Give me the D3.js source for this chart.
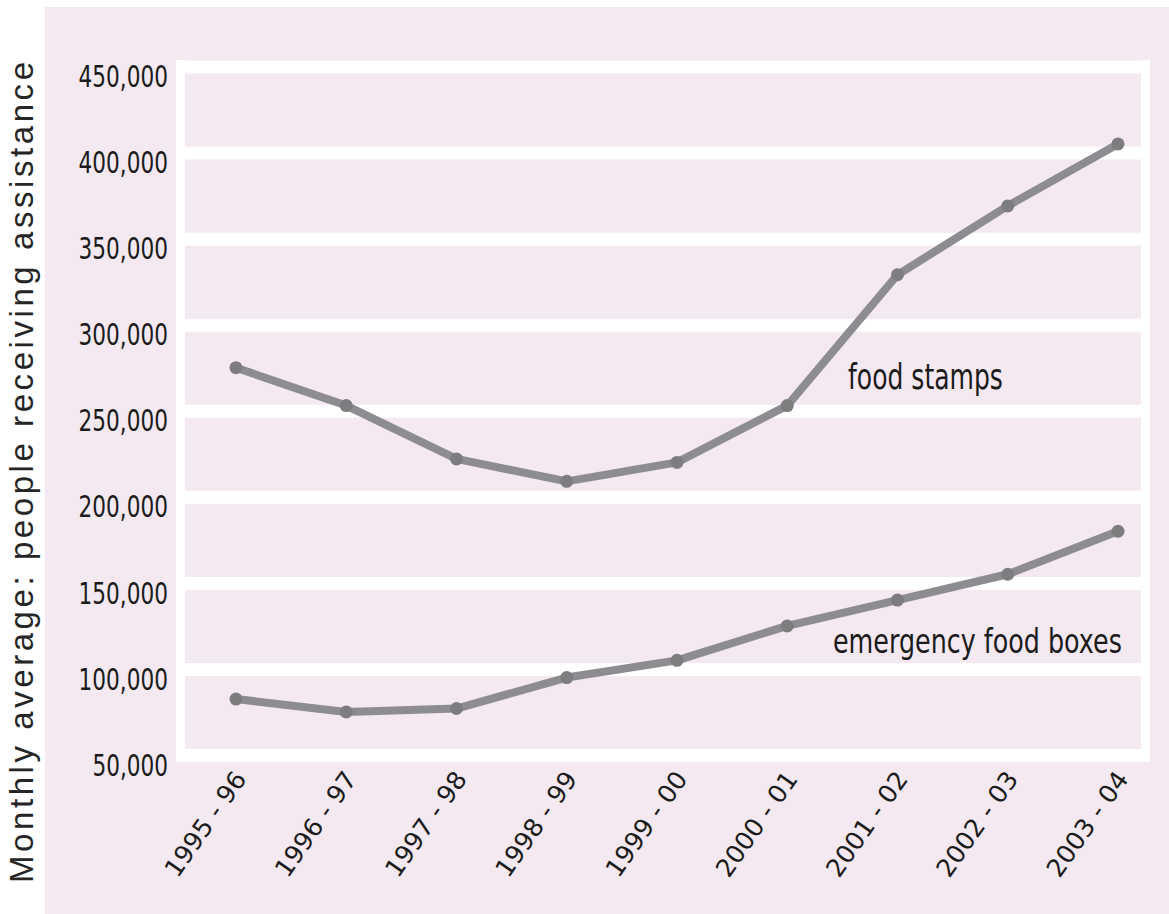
<!DOCTYPE html>
<html>
<head>
<meta charset="utf-8">
<script src="https://cdn.jsdelivr.net/npm/d3@7"></script>
<style>
  body { margin: 0; background: #ffffff; }
  svg { display: block; }
</style>
</head>
<body>
<svg id="chart" width="1169" height="914"></svg>
<script>
// Fiscal years on the x axis
const years = ["1995 - 96", "1996 - 97", "1997 - 98", "1998 - 99", "1999 - 00",
               "2000 - 01", "2001 - 02", "2002 - 03", "2003 - 04"];
// Monthly average number of people receiving each kind of assistance
const foodStamps = [275000, 253000, 222000, 209000, 220000, 253000, 329000, 369000, 405000];
const foodBoxes  = [82500, 75000, 77000, 95000, 105000, 125000, 140000, 155000, 180000];
// Value axis ticks
const yTicks = [50000, 100000, 150000, 200000, 250000, 300000, 350000, 400000, 450000];
const seriesNames = ["food stamps", "emergency food boxes"];
const axisTitle = "Monthly average: people receiving assistance";

const W = 1169, H = 914;
const pink = "#f4e9f0";
const lineGrey = "#8d8d91";
const dotGrey = "#7d7d80";
const ink = "#1b1b1b";
const condensed = "'Liberation Sans Narrow', 'Arial Narrow', 'DejaVu Sans', sans-serif";

const plot = { left: 185, right: 1141, top: 66.5, bottom: 755 };

const svg = d3.select("#chart");

// Panel background
svg.append("rect").attr("x", 45).attr("y", 7).attr("width", W - 45).attr("height", H - 7)
  .attr("fill", pink);

const y = d3.scaleLinear().domain([50000, 450000]).range([plot.bottom, plot.top]);
const x = d3.scalePoint().domain(years).range([236, 1118]);

// White frame with pink plotting field
svg.append("rect").attr("x", plot.left - 9).attr("y", plot.top - 6.5)
  .attr("width", plot.right - plot.left + 18).attr("height", plot.bottom - plot.top + 13)
  .attr("fill", "#ffffff");
svg.append("rect").attr("x", plot.left).attr("y", plot.top - 6.5)
  .attr("width", plot.right - plot.left).attr("height", plot.bottom - plot.top + 13)
  .attr("fill", pink);

// Thick white gridlines
const grid = svg.append("g").attr("transform", `translate(${plot.left - 9},0)`)
  .call(d3.axisRight(y).tickValues(yTicks).tickSize(plot.right - plot.left + 18).tickFormat(""));
grid.select(".domain").remove();
grid.selectAll(".tick line").attr("stroke", "#ffffff").attr("stroke-width", 13);

// Value labels (condensed to a narrow set width)
const fmt = d3.format(",");
const yAxis = svg.append("g").attr("transform", "translate(168,0)")
  .call(d3.axisLeft(y).tickValues(yTicks).tickSize(0).tickPadding(0).tickFormat(fmt));
yAxis.select(".domain").remove();
yAxis.selectAll(".tick text")
  .attr("y", 9)
  .attr("dy", "0.36em")
  .attr("fill", ink)
  .attr("textLength", d => 13.9 * fmt(d).replace(",", "").length + 6)
  .attr("lengthAdjust", "spacingAndGlyphs")
  .style("font-family", condensed)
  .style("font-size", "31px");

// Category labels, slanted
const xAxis = svg.append("g").attr("transform", `translate(0,${plot.bottom})`)
  .call(d3.axisBottom(x).tickSize(0).tickPadding(0));
xAxis.select(".domain").remove();
xAxis.selectAll(".tick text")
  .attr("y", 0)
  .attr("dy", 0)
  .attr("text-anchor", "end")
  .attr("transform", "translate(11,24) rotate(-55)")
  .attr("fill", ink)
  .attr("textLength", 122)
  .attr("lengthAdjust", "spacingAndGlyphs")
  .style("font-family", condensed)
  .style("font-size", "25px");

// Axis title
svg.append("text")
  .attr("transform", `translate(33,${(62 + 883) / 2}) rotate(-90)`)
  .attr("text-anchor", "middle")
  .attr("textLength", 821)
  .attr("lengthAdjust", "spacing")
  .attr("fill", "#262626")
  .style("font-family", "'Liberation Sans', Arial, sans-serif")
  .style("font-size", "33px")
  .text(axisTitle);

// Series lines with point markers
const line = d3.line().x((d, i) => x(years[i])).y(d => y(d));
[foodStamps, foodBoxes].forEach(series => {
  svg.append("path").datum(series)
    .attr("d", line)
    .attr("fill", "none")
    .attr("stroke", lineGrey)
    .attr("stroke-width", 8)
    .attr("stroke-linejoin", "round")
    .attr("stroke-linecap", "round");
  svg.append("g").selectAll("circle").data(series).join("circle")
    .attr("cx", (d, i) => x(years[i]))
    .attr("cy", d => y(d))
    .attr("r", 6.5)
    .attr("fill", dotGrey);
});

// Series labels: squeezed horizontally to a set width so they read as a condensed face
function condensedLabel(text, left, baseline, width, size) {
  const t = svg.append("text")
    .attr("x", 0).attr("y", 0)
    .attr("fill", ink)
    .style("font-family", condensed)
    .style("font-size", size + "px")
    .text(text);
  const natural = t.node().getComputedTextLength();
  const k = Math.min(1, width / natural);
  t.attr("transform", `translate(${left},${baseline}) scale(${k},1)`);
  return t;
}
condensedLabel(seriesNames[0], 848, 389, 155, 35);
condensedLabel(seriesNames[1], 833, 653, 289, 34);
</script>
</body>
</html>
